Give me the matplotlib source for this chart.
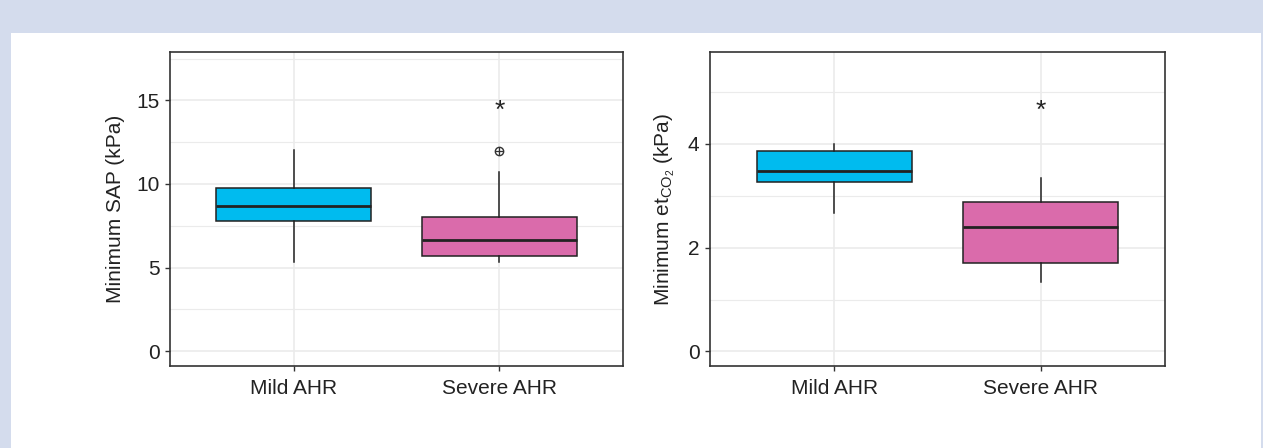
import matplotlib
matplotlib.use("Agg")
import matplotlib.pyplot as plt
from matplotlib.patches import Rectangle

plt.rcParams['font.family'] = ['Liberation Sans', 'DejaVu Sans']
plt.rcParams['mathtext.fontset'] = 'custom'
plt.rcParams['mathtext.rm'] = 'Liberation Sans'
plt.rcParams['mathtext.it'] = 'Liberation Sans:italic'

groups = ['Mild AHR', 'Severe AHR']
colors = ['#00BBEF', '#DA6BAB']

# box stats: whislo, q1, med, q3, whishi
sap_whislo = [5.32, 5.32]
sap_q1 = [7.77, 5.71]
sap_med = [8.68, 6.67]
sap_q3 = [9.74, 8.01]
sap_whishi = [12.03, 10.70]
sap_fliers = [[], [12.0]]
sap_star = 14.72

co2_whislo = [2.66, 1.34]
co2_q1 = [3.26, 1.70]
co2_med = [3.47, 2.40]
co2_q3 = [3.87, 2.88]
co2_whishi = [4.00, 3.34]
co2_fliers = [[], []]
co2_star = 4.75

W, H = 1263, 448
fig = plt.figure(figsize=(W / 100, H / 100), dpi=100)
fig.patch.set_facecolor('#D4DCED')
fig.patches.append(Rectangle((11 / W, 0), (1261 - 11) / W, (H - 33) / H,
                             transform=fig.transFigure, facecolor='white',
                             edgecolor='none', zorder=-10))


def make_stats(whislo, q1, med, q3, whishi, fliers):
    return [dict(whislo=whislo[i], q1=q1[i], med=med[i], q3=q3[i],
                 whishi=whishi[i], fliers=fliers[i]) for i in range(len(groups))]


def draw_panel(ax, stats, star, ylim, major, minor, ylabel):
    ax.set_facecolor('white')
    bp = ax.bxp(stats, positions=[1, 2], widths=0.75, patch_artist=True,
                showcaps=False, showfliers=False,
                boxprops=dict(edgecolor='#222222', linewidth=1.1),
                medianprops=dict(color='#222222', linewidth=2.0),
                whiskerprops=dict(color='#222222', linewidth=1.1),
                zorder=3)
    for patch, c in zip(bp['boxes'], colors):
        patch.set_facecolor(c)
    for i, st in enumerate(stats):
        if st['fliers']:
            ax.plot([i + 1] * len(st['fliers']), st['fliers'], 'o', ms=6,
                    mfc='none', mec='#333333', mew=1.0, zorder=4)
            ax.plot([i + 1] * len(st['fliers']), st['fliers'], '+', ms=6,
                    color='#333333', mew=0.9, zorder=4)
    # significance mark; glyph sits high in its box, so nudge down
    ax.annotate('*', xy=(2, star), xytext=(0, -4), textcoords='offset points',
                ha='center', va='center', fontsize=19, color='#222222', zorder=5)
    ax.set_xlim(0.4, 2.6)
    ax.set_ylim(*ylim)
    ax.set_yticks(major)
    ax.set_yticks(minor, minor=True)
    ax.set_xticks([1, 2])
    ax.set_xticklabels(groups)
    ax.grid(True, which='major', color='#EBEBEB', linewidth=1.2, zorder=0)
    ax.grid(True, which='minor', axis='y', color='#EBEBEB', linewidth=0.8, zorder=0)
    ax.set_axisbelow(True)
    ax.tick_params(which='major', length=3.5, width=1, color='#333333',
                   labelsize=15, labelcolor='#222222', pad=4)
    ax.tick_params(axis='x', pad=6)
    ax.tick_params(which='minor', length=0)
    for s in ax.spines.values():
        s.set_color('#333333')
        s.set_linewidth(1.2)
    ax.set_ylabel(ylabel, fontsize=15, color='#222222', labelpad=8)


ax1 = fig.add_axes([170 / W, (H - 366) / H, (623 - 170) / W, (366 - 52) / H])
draw_panel(ax1, make_stats(sap_whislo, sap_q1, sap_med, sap_q3, sap_whishi, sap_fliers),
           sap_star, (-0.88, 17.89), [0, 5, 10, 15], [2.5, 7.5, 12.5, 17.5],
           'Minimum SAP (kPa)')

ax2 = fig.add_axes([710 / W, (H - 366) / H, (1165 - 710) / W, (366 - 52) / H])
draw_panel(ax2, make_stats(co2_whislo, co2_q1, co2_med, co2_q3, co2_whishi, co2_fliers),
           co2_star, (-0.28, 5.77), [0, 2, 4], [1, 3, 5],
           r'Minimum et$_{\mathrm{CO}_2}$ (kPa)')

fig.savefig('out.png', dpi=100, facecolor=fig.get_facecolor())
